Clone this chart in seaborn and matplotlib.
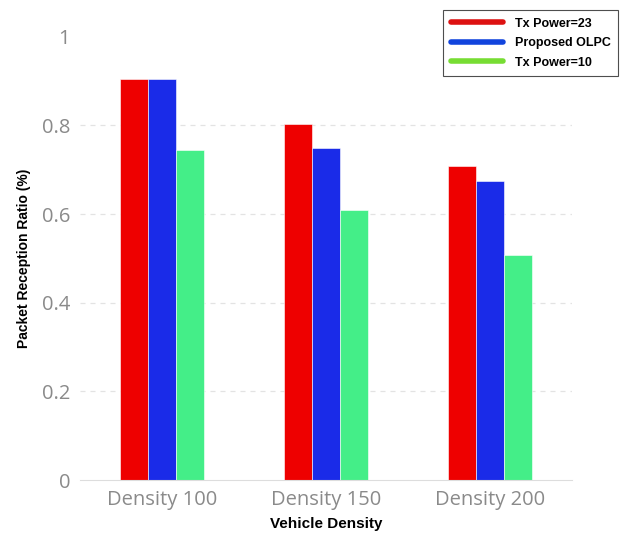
import numpy as np
import pandas as pd
import matplotlib
matplotlib.use('Agg')
import matplotlib.pyplot as plt
import seaborn as sns
from matplotlib.lines import Line2D

# chart data
densities = ['Density 100', 'Density 150', 'Density 200']
series = ['Tx Power=23', 'Proposed OLPC', 'Tx Power=10']
tx23 = [0.905, 0.804, 0.709]
olpc = [0.905, 0.749, 0.675]
tx10 = [0.745, 0.610, 0.508]
yticks = [0, 0.2, 0.4, 0.6, 0.8, 1]
ytick_labels = ['0', '0.2', '0.4', '0.6', '0.8', '1']

bar_colors = ['#ee0000', '#1a2be8', '#44ee88']
legend_colors = ['#dd1111', '#1144dd', '#77dd33']

df = pd.DataFrame({
    'density': densities * 3,
    'series': [s for s in series for _ in densities],
    'ratio': tx23 + olpc + tx10,
})

sns.set_style('white')
fig = plt.figure(figsize=(6.23, 5.34), dpi=100)
ax = fig.add_axes([0.128, 0.101, 0.79, 0.83])

sns.barplot(data=df, x='density', y='ratio', hue='series', hue_order=series,
            palette=bar_colors, width=0.51, gap=0, saturation=1,
            edgecolor='#ffffff', linewidth=0.4, legend=False, ax=ax)

ax.set_ylim(0, 1)
ax.set_xlim(-0.5, 2.5)
ax.set_yticks(yticks)
ax.set_yticklabels(ytick_labels)
for y in yticks[1:-1]:
    ax.axhline(y, color='#e3e3e3', linestyle=(0, (4, 4)), linewidth=0.9, zorder=0)

for s in ['top', 'right', 'left']:
    ax.spines[s].set_visible(False)
ax.spines['bottom'].set_color('#dddddd')
ax.tick_params(axis='both', length=0, colors='#8a8a8a', labelsize=14.5, pad=7)
for lab in ax.get_xticklabels() + ax.get_yticklabels():
    lab.set_family('Open Sans')

ax.set_xlabel('Vehicle Density', fontsize=11, fontweight='bold', color='black',
              family='Liberation Sans', labelpad=5)
ax.set_ylabel('Packet Reception Ratio (%)', fontsize=10, fontweight='bold', color='black',
              family='Liberation Sans', labelpad=8)

handles = [Line2D([0], [0], color=c, linewidth=4) for c in legend_colors]
leg = fig.legend(handles, series, loc='upper right', bbox_to_anchor=(0.992, 0.981),
                 borderaxespad=0, frameon=True, fancybox=False, edgecolor='#222222',
                 prop={'family': 'Liberation Sans', 'weight': 'bold', 'size': 9},
                 handlelength=4.2, handletextpad=0.9, labelspacing=0.6, borderpad=0.6)
leg.get_frame().set_linewidth(0.8)
for t in leg.get_texts():
    t.set_color('black')

fig.savefig('out.png', dpi=100)
